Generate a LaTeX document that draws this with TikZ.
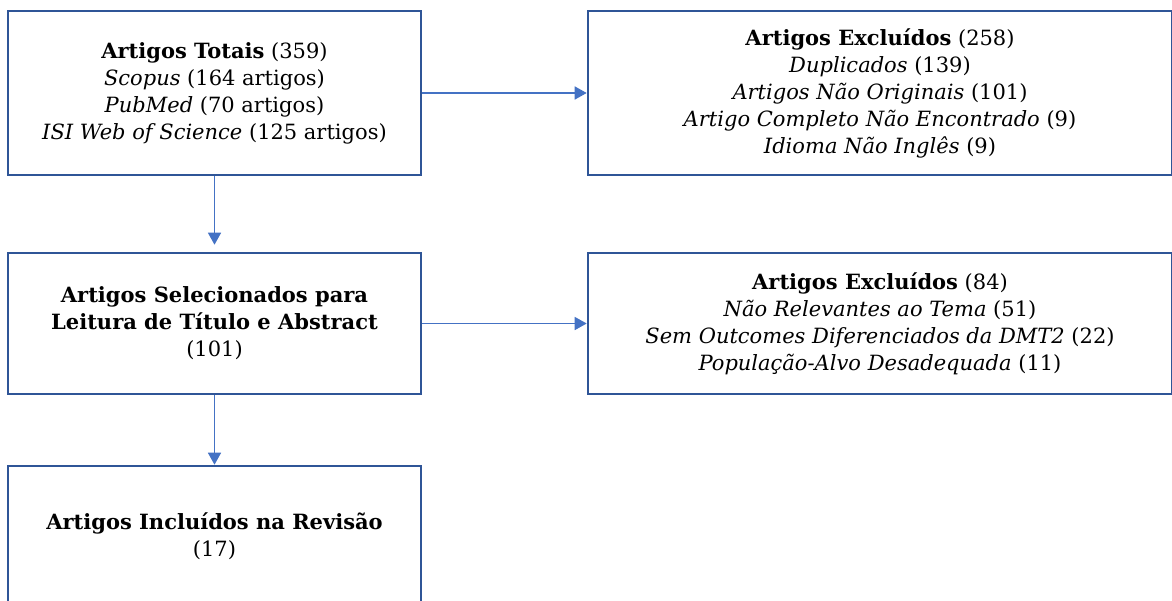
\documentclass[tikz,border=0pt]{standalone}
\usepackage{fontspec}
\setmainfont{DejaVu Serif}
\usepackage{tikz}
\usetikzlibrary{arrows.meta,positioning}
\definecolor{boxline}{RGB}{47,85,151}
\definecolor{flowline}{RGB}{68,114,196}
\tikzset{
  etapa/.style={draw=boxline,line width=2.6pt,fill=white,align=center,
    minimum width=413pt,minimum height=141pt,inner sep=0pt,
    font=\fontsize{21}{27}\selectfont},
  excluido/.style={etapa,minimum width=584pt},
  fluxo/.style={draw=flowline,line width=1.5pt,
    -{Triangle[length=12pt,width=13pt]}}
}
\begin{document}
\begin{tikzpicture}[x=1pt,y=-1pt]
\useasboundingbox (0,0) rectangle (1172,600);
% caixas da esquerda
\node[etapa,minimum height=164pt] (totais) at (214.5,93)
  {\textbf{Artigos Totais} (359)\\ \textit{Scopus} (164 artigos)\\
   \textit{PubMed} (70 artigos)\\ \textit{ISI Web of Science} (125 artigos)};
\node[etapa] (selecao) at (214.5,323.5)
  {\textbf{Artigos Selecionados para}\\ \textbf{Leitura de Título e Abstract}\\ (101)};
\node[etapa] (incluidos) at (214.5,536.5)
  {\textbf{Artigos Incluídos na Revisão}\\ (17)};
% caixas da direita
\node[excluido,minimum height=164pt] (excl1) at (880,93)
  {\textbf{Artigos Excluídos} (258)\\ \textit{Duplicados} (139)\\
   \textit{Artigos Não Originais} (101)\\
   \textit{Artigo Completo Não Encontrado} (9)\\
   \textit{Idioma Não Inglês} (9)};
\node[excluido] (excl2) at (880,323.5)
  {\textbf{Artigos Excluídos} (84)\\ \textit{Não Relevantes ao Tema} (51)\\
   \textit{Sem Outcomes Diferenciados da DMT2} (22)\\
   \textit{População-Alvo Desadequada} (11)};

\draw[fluxo] (totais) -- (excl1);
\draw[fluxo,shorten >=7pt] (totais) -- (selecao);
\draw[fluxo] (selecao) -- (excl2);
\draw[fluxo] (selecao) -- (incluidos);
\end{tikzpicture}
\end{document}
